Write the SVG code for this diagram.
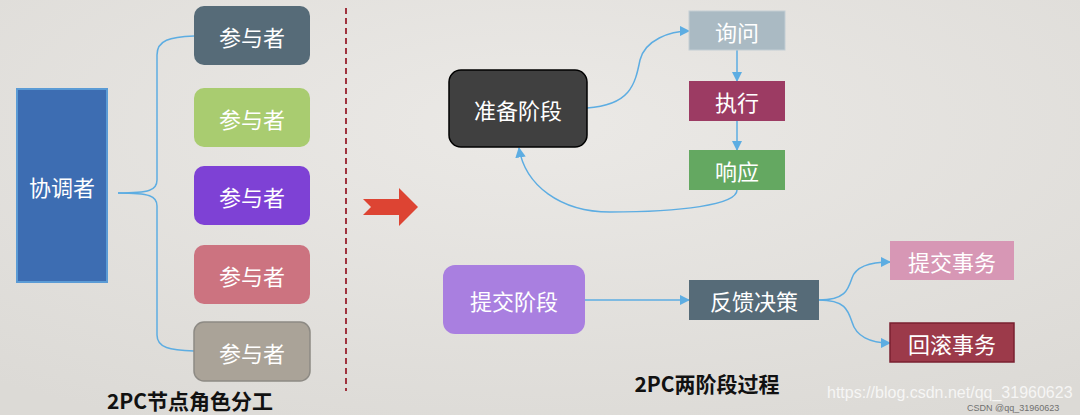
<svg xmlns="http://www.w3.org/2000/svg" width="1080" height="415" viewBox="0 0 1080 415">
<defs>
<radialGradient id="bg" cx="0.5" cy="0.3" r="0.8"><stop offset="0" stop-color="#ebe9e6"/><stop offset="1" stop-color="#dcdad6"/></radialGradient>
<marker id="ah" viewBox="0 0 10 10" refX="9" refY="5" markerWidth="7" markerHeight="7" orient="auto"><path d="M0,0L10,5L0,10z" fill="#5dade2"/></marker>
<style>
.t{font-family:"Noto Sans CJK SC","Noto Sans",sans-serif;fill:#fff;font-size:22px;text-anchor:middle;dominant-baseline:central}
.c{fill:none;stroke:#5dade2;stroke-width:1.5}
.lb{font-family:"Noto Sans CJK SC",sans-serif;font-weight:bold;font-size:21px;fill:#111;text-anchor:middle}
</style>
</defs>
<rect width="1080" height="415" fill="url(#bg)"/>
<g id="connectors">
<path class="c" d="M118,193 C150,193 157,190 157,180 L157,55 C157,40 170,37 194,36"/>
<path class="c" d="M118,193 C150,193 157,196 157,206 L157,335 C157,348 170,350 194,351"/>
<path class="c" d="M587,108 C630,105 635,85 640,60 C645,40 670,31 689,31" marker-end="url(#ah)"/>
<path class="c" d="M737,50 L737,81" marker-end="url(#ah)"/>
<path class="c" d="M737,121 L737,150" marker-end="url(#ah)"/>
<path class="c" d="M737,190 C737,205 680,212 610,212 C560,212 525,185 519,148" marker-end="url(#ah)"/>
<path class="c" d="M585,300 L689,300" marker-end="url(#ah)"/>
<path class="c" d="M819,300 C845,300 848,290 852,278 C856,266 870,262 890,262" marker-end="url(#ah)"/>
<path class="c" d="M819,300 C845,300 848,310 852,322 C856,336 870,343 890,343" marker-end="url(#ah)"/>
</g>
<g id="coordinator"><rect x="17" y="89" width="90" height="193" fill="#3d6db2" stroke="#5b9bd5" stroke-width="2"/><text class="t" x="62" y="186">协调者</text></g>
<g id="p1"><rect x="194" y="6" width="116" height="59" rx="10" fill="#566b78"/><text class="t" x="252" y="36">参与者</text></g>
<g id="p2"><rect x="194" y="88" width="116" height="59" rx="10" fill="#a9cc70"/><text class="t" x="252" y="118">参与者</text></g>
<g id="p3"><rect x="194" y="166" width="116" height="59" rx="10" fill="#7e41d5"/><text class="t" x="252" y="196">参与者</text></g>
<g id="p4"><rect x="194" y="245" width="116" height="59" rx="10" fill="#cc7380"/><text class="t" x="252" y="275">参与者</text></g>
<g id="p5"><rect x="194" y="322" width="116" height="59" rx="10" fill="#aaa398" stroke="#8d8a84" stroke-width="1.5"/><text class="t" x="252" y="352">参与者</text></g>
<line x1="346" y1="8" x2="346" y2="391" stroke="#a0333e" stroke-width="2" stroke-dasharray="6,4"/>
<polygon points="363,199 399,199 399,188 418,207 399,226 399,215 363,215 371,207" fill="#dd4433"/>
<text class="lb" x="190" y="409">2PC节点角色分工</text>
<g id="prepare"><rect x="449" y="70" width="138" height="77" rx="12" fill="#404040" stroke="#000" stroke-width="1.5"/><text class="t" x="518" y="109">准备阶段</text></g>
<g id="ask"><rect x="689" y="11" width="96" height="39" fill="#aabac3" stroke="#c3ced4"/><text class="t" x="737" y="31">询问</text></g>
<g id="exec"><rect x="689" y="81" width="96" height="40" fill="#9c3b63"/><text class="t" x="737" y="101">执行</text></g>
<g id="resp"><rect x="689" y="150" width="96" height="40" fill="#64a861"/><text class="t" x="737" y="170">响应</text></g>
<g id="commitphase"><rect x="443" y="265" width="142" height="69" rx="12" fill="#a97fe0"/><text class="t" x="514" y="300">提交阶段</text></g>
<g id="decide"><rect x="689" y="280" width="130" height="40" fill="#566b78"/><text class="t" x="754" y="300">反馈决策</text></g>
<g id="commit"><rect x="890" y="241" width="124" height="39" fill="#d797b5"/><text class="t" x="952" y="261">提交事务</text></g>
<g id="rollback"><rect x="890" y="323" width="124" height="39" fill="#9c3a4a" stroke="#7a2030" stroke-width="1.5"/><text class="t" x="952" y="343">回滚事务</text></g>
<text class="lb" x="707" y="392">2PC两阶段过程</text>
<text x="827" y="398" font-family="Liberation Sans,sans-serif" font-size="16" fill="#fff" opacity="0.75">https://blog.csdn.net/qq_31960623</text>
<text x="967" y="411" font-family="Liberation Sans,sans-serif" font-size="9" fill="#555" opacity="0.8">CSDN @qq_31960623</text>
</svg>
